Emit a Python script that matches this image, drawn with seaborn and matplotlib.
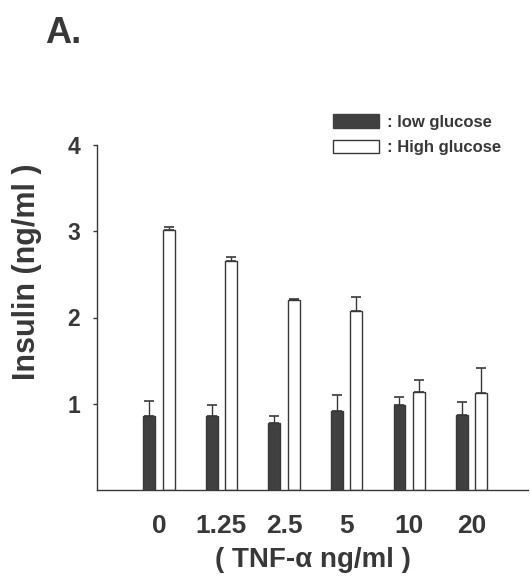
import numpy as np
import pandas as pd
import matplotlib
matplotlib.use("Agg")
import matplotlib.pyplot as plt
from matplotlib.patches import Patch
import seaborn as sns

# TNF-alpha doses and insulin secretion (mean and upper SEM)
doses = ["0", "1.25", "2.5", "5", "10", "20"]
conditions = ["low glucose", "High glucose"]
low_mean = [0.86, 0.86, 0.78, 0.92, 0.99, 0.87]
low_sem = [0.17, 0.12, 0.08, 0.18, 0.09, 0.15]
high_mean = [3.01, 2.65, 2.20, 2.07, 1.14, 1.12]
high_sem = [0.04, 0.05, 0.01, 0.17, 0.13, 0.29]
yticks = [1, 2, 3, 4]

df = pd.DataFrame({
    "dose": doses * 2,
    "condition": [conditions[0]] * len(doses) + [conditions[1]] * len(doses),
    "insulin": low_mean + high_mean,
})

sns.set_style("white")
plt.rcParams["font.family"] = ["Liberation Sans", "DejaVu Sans"]
plt.rcParams["font.weight"] = "bold"

ink = "#383838"
dark_fill = "#404040"

fig = plt.figure(figsize=(5.3, 5.85), dpi=100)
ax = fig.add_axes([97 / 530, 1 - 490 / 585, (528 - 97) / 530, (490 - 145) / 585])

sns.barplot(
    data=df, x="dose", y="insulin", hue="condition",
    order=doses, hue_order=conditions,
    palette={conditions[0]: dark_fill, conditions[1]: "white"},
    width=0.62, gap=0.39, errorbar=None, legend=False,
    edgecolor=ink, linewidth=1.0, ax=ax,
)

# one-sided (upper) error bars at each bar's centre
for container, means, sems in zip(ax.containers, [low_mean, high_mean], [low_sem, high_sem]):
    xs = [b.get_x() + b.get_width() / 2 for b in container]
    ax.errorbar(xs, means, yerr=[np.zeros(len(sems)), sems], fmt="none",
                ecolor=ink, elinewidth=1.0, capsize=3.6, capthick=1.2, zorder=1)

ax.set_ylim(0, 4)
ax.set_xlim(-0.99, 5.9)
ax.set_yticks(yticks)
ax.set_yticklabels([str(t) for t in yticks], fontsize=16.5, fontweight="bold", color=ink)
ax.set_xticks(range(len(doses)))
ax.set_xticklabels(doses, fontsize=19, fontweight="bold", color=ink)
ax.tick_params(axis="x", length=0, pad=17)
ax.tick_params(axis="y", length=3, width=1, color=ink, direction="out", pad=9, left=True)

for s in ["top", "right"]:
    ax.spines[s].set_visible(False)
for s in ["left", "bottom"]:
    ax.spines[s].set_color(ink)
    ax.spines[s].set_linewidth(1.0)

ax.set_xlabel("( TNF-α ng/ml )", fontsize=20, fontweight="bold", color=ink, labelpad=7)
ax.set_ylabel("Insulin (ng/ml )", fontsize=22, fontweight="bold", color=ink)
ax.yaxis.set_label_coords(-0.128, 0.632)

handles = [Patch(facecolor=dark_fill, edgecolor=dark_fill, linewidth=1.0),
           Patch(facecolor="white", edgecolor=ink, linewidth=1.0)]
fig.legend(handles, [": " + c for c in conditions], loc="upper left",
           bbox_to_anchor=(325 / 530, 1 - 106 / 585), frameon=False, borderpad=0,
           handlelength=2.75, handleheight=0.85, handletextpad=0.45, labelspacing=0.6,
           prop={"size": 12, "weight": "bold"}, labelcolor=ink)

fig.text(45 / 530, 1 - 43 / 585, "A.", fontsize=26, fontweight="bold", color=ink,
         ha="left", va="baseline")

fig.savefig("out.png", dpi=100, facecolor="white")
